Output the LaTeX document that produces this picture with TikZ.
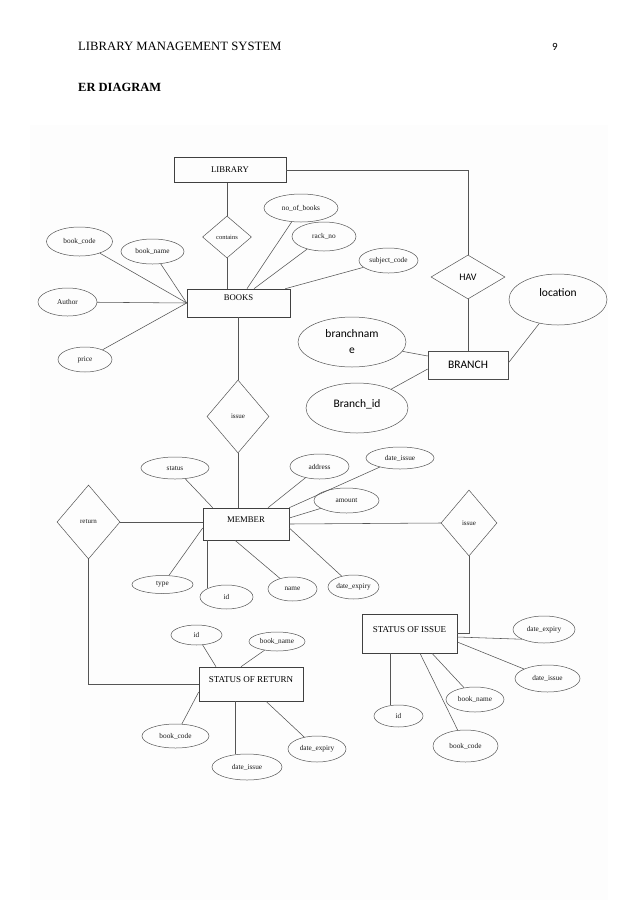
\documentclass[tikz,border=0pt]{standalone}
\usepackage{fontspec}
\usetikzlibrary{shapes.geometric}
\newfontfamily\tms{Liberation Serif}
\newfontfamily\clb{Carlito}
\definecolor{bgc}{HTML}{FDFDFD}
\definecolor{lnc}{HTML}{555555}
\begin{document}
\begin{tikzpicture}[x=1pt,y=-1pt,
  every node/.style={inner sep=0pt},
  ln/.style={draw=lnc,line width=0.55pt},
  ent/.style={draw=black!75,line width=0.6pt,rectangle,font={\tms\fontsize{8.7}{10}\selectfont}},
  attr/.style={draw=lnc,line width=0.5pt,ellipse,font={\tms\fontsize{7.3}{9}\selectfont},text=black!90},
  rel/.style={draw=lnc,line width=0.5pt,diamond,font={\tms\fontsize{7}{9}\selectfont},text=black!90},
  cattr/.style={draw=lnc,line width=0.5pt,ellipse,font={\clb\fontsize{11.5}{16}\selectfont}},
  cent/.style={draw=black!70,line width=0.6pt,rectangle,font={\clb\fontsize{11.5}{14}\selectfont}},
]
\useasboundingbox (0,0) rectangle (638,903);
\fill[bgc] (30,125) rectangle (608,900);

% header
\node[anchor=base west,font={\tms\fontsize{12.7}{14}\selectfont}] (hdr) at (78,50) {LIBRARY MANAGEMENT SYSTEM};
\node[anchor=base,font={\clb\fontsize{11}{13}\selectfont}] (pg) at (555,50) {9};
\node[anchor=base west,font={\tms\bfseries\fontsize{12.5}{14}\selectfont}] (title) at (78,91) {ER DIAGRAM};

% entities
\node[ent,minimum width=112,minimum height=25] (library) at (230,170) {LIBRARY};
\node[ent,minimum width=103,minimum height=28,text depth=10pt] (books) at (238.5,303) {BOOKS};
\node[ent,minimum width=86,minimum height=32,text depth=8pt] (member) at (246,524) {MEMBER};
\node[ent,minimum width=95,minimum height=39,text depth=7pt,font={\tms\fontsize{9}{10}\selectfont}] (soi) at (409.5,633.5) {STATUS OF ISSUE};
\node[ent,minimum width=104,minimum height=34,text depth=8pt,font={\tms\fontsize{9}{10}\selectfont}] (sor) at (251,684) {STATUS OF RETURN};
\node[cent,minimum width=80,minimum height=28] (branch) at (468,365) {BRANCH};

% relationships
\node[rel,minimum width=49,minimum height=42,font={\tms\fontsize{6.5}{8}\selectfont}] (contains) at (227,237) {contains};
\node[rel,minimum width=74,minimum height=44,font={\clb\fontsize{10}{12}\selectfont},text=black] (hav) at (468,277) {HAV};
\node[rel,minimum width=62,minimum height=73] (issue1) at (238,416.5) {issue};
\node[rel,minimum width=63,minimum height=74] (return) at (88.5,522) {return};
\node[rel,minimum width=56,minimum height=66] (issue2) at (469,523) {issue};

% BOOKS attributes
\node[attr,minimum width=66,minimum height=29] (bcode) at (79.5,241.5) {book\_code};
\node[attr,minimum width=63,minimum height=25] (bname) at (152.5,251.5) {book\_name};
\node[attr,minimum width=59,minimum height=28] (author) at (67.5,302) {Author};
\node[attr,minimum width=54,minimum height=25] (price) at (85,359.5) {price};
\node[attr,minimum width=74,minimum height=28] (nobooks) at (301,208) {no\_of\_books};
\node[attr,minimum width=64,minimum height=29] (rackno) at (324,236.5) {rack\_no};
\node[attr,minimum width=59,minimum height=25] (subj) at (388.5,260.5) {subject\_code};

% BRANCH attributes
\node[cattr,minimum width=98,minimum height=51,text depth=13pt] (location) at (558,299.5) {location};
\node[cattr,minimum width=108,minimum height=50,align=center] (brname) at (352,342) {branchnam\\e};
\node[cattr,minimum width=102,minimum height=50,text depth=8pt] (brid) at (357,408) {Branch\_id};

% MEMBER attributes
\node[attr,minimum width=68,minimum height=22] (mstatus) at (175,468) {status};
\node[attr,minimum width=59,minimum height=25] (maddr) at (319.5,466.5) {address};
\node[attr,minimum width=68,minimum height=22] (mdissue) at (400,458) {date\_issue};
\node[attr,minimum width=65,minimum height=25] (mamount) at (346.5,500.5) {amount};
\node[attr,minimum width=51,minimum height=24] (mdexp) at (353.5,587) {date\_expiry};
\node[attr,minimum width=49,minimum height=24] (mname) at (292.5,589) {name};
\node[attr,minimum width=53,minimum height=24] (mid) at (226.5,597) {id};
\node[attr,minimum width=61,minimum height=18] (mtype) at (162.5,584.5) {type};

% STATUS OF RETURN attributes
\node[attr,minimum width=51,minimum height=20] (rid) at (196.5,635) {id};
\node[attr,minimum width=56,minimum height=19] (rbname) at (277,641.5) {book\_name};
\node[attr,minimum width=67,minimum height=24] (rbcode) at (175.5,736) {book\_code};
\node[attr,minimum width=70,minimum height=26] (rdissue) at (247,767) {date\_issue};
\node[attr,minimum width=58,minimum height=26] (rdexp) at (317,749) {date\_expiry};

% STATUS OF ISSUE attributes
\node[attr,minimum width=62,minimum height=27] (sdexp) at (544,629.5) {date\_expiry};
\node[attr,minimum width=65,minimum height=27] (sdissue) at (547.5,678.5) {date\_issue};
\node[attr,minimum width=58,minimum height=25] (sbname) at (475,699.5) {book\_name};
\node[attr,minimum width=49,minimum height=22] (sid) at (398.5,716) {id};
\node[attr,minimum width=65,minimum height=32] (sbcode) at (465.5,746) {book\_code};

% connectors: LIBRARY / BOOKS
\draw[ln] (contains.north) -- (contains.north |- library.south);
\draw[ln] (contains.south) -- (contains.south |- books.north);
\draw[ln] (library.east) -| (hav.north);
\draw[ln] (hav.south) -- (branch.north);
\draw[ln] (bcode) -- (books.west);
\draw[ln] (bname) -- (books.west);
\draw[ln] (author) -- (books.west);
\draw[ln] (price) -- (books.west);
\draw[ln] (nobooks) -- ([xshift=8.5pt]books.north);
\draw[ln] (rackno) -- ([xshift=15.5pt]books.north);
\draw[ln] (subj) -- ([xshift=-5pt]books.north east);
\draw[ln] (issue1.north |- books.south) -- (issue1.north);
\draw[ln] (issue1.south) -- (issue1.south |- member.north);

% BRANCH
\draw[ln] (brname) -- ([yshift=9pt]branch.west);
\draw[ln] (brid) -- ([yshift=-4pt]branch.west);
\draw[ln] (location) -- ([yshift=2pt]branch.east);

% MEMBER
\draw[ln] (mstatus) -- ([xshift=10pt]member.north west);
\draw[ln] (maddr) -- ([xshift=22pt]member.north);
\draw[ln] (mdissue) -- (member.north east);
\draw[ln] (mamount) -- ([yshift=6pt]member.east);
\draw[ln] (member.east) -- (issue2.west);
\draw[ln] (mdexp) -- ([yshift=-4pt]member.east);
\draw[ln] (mname) -- ([xshift=-11pt]member.south);
\draw[ln] (mid.north west) -- (mid.north west |- member.south);
\draw[ln] (mtype) -- ([yshift=-4pt]member.west);
\draw[ln] (return.east) -- (return.east -| member.west);
\draw[ln] (return.south) |- (sor.west);
\draw[ln] (issue2.south) |- (soi.east);

% STATUS OF ISSUE
\draw[ln] ([yshift=-3.5pt]soi.east) -- (sdexp.south west);
\draw[ln] ([yshift=-8.5pt]soi.east) -- (sdissue);
\draw[ln] ([xshift=22.5pt]soi.south) -- (sbname);
\draw[ln] ([xshift=-19.5pt]soi.south) -- ([xshift=-8.5pt]sid.north);
\draw[ln] ([xshift=10.5pt]soi.south) -- (sbcode);

% STATUS OF RETURN
\draw[ln] (rid) -- ([xshift=-35pt]sor.north);
\draw[ln] (rbname) -- ([xshift=-10pt]sor.north);
\draw[ln] (rbcode) -- ([yshift=-8pt]sor.west);
\draw[ln] ([xshift=-16pt]sor.south) -- ([xshift=-12pt]rdissue.north);
\draw[ln] (rdexp) -- ([xshift=15pt]sor.south);
\end{tikzpicture}
\end{document}
